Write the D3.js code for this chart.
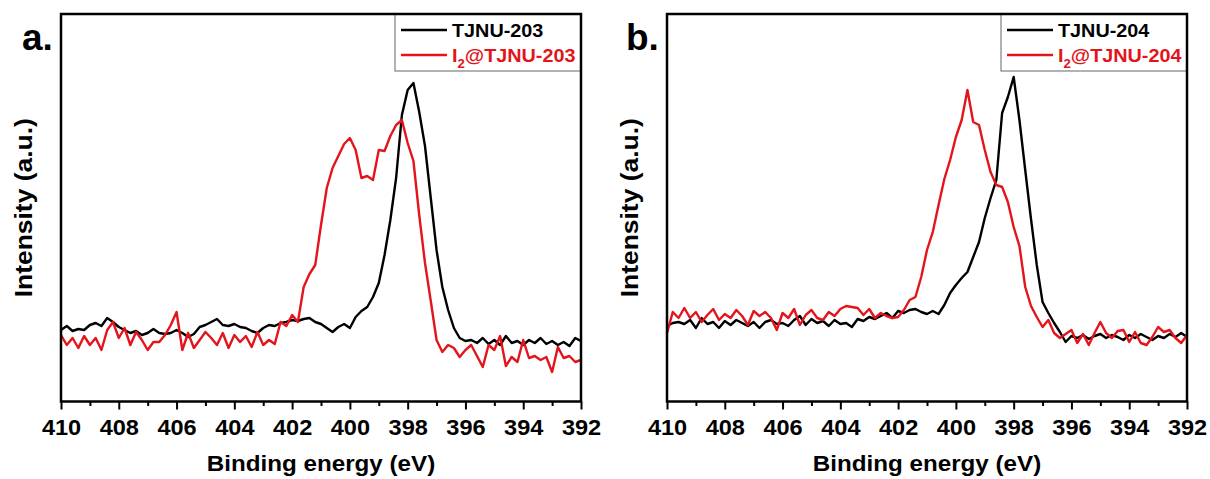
<!DOCTYPE html>
<html>
<head>
<meta charset="utf-8">
<script src="https://cdn.jsdelivr.net/npm/d3@7"></script>
<style>
body{margin:0;background:#fff}
svg{display:block;font-family:Arial,"Liberation Sans",sans-serif;font-weight:bold}
</style>
</head>
<body>
<svg id="canvas" width="1210" height="479"></svg>
<script>
// binding energy grid (eV), 0.2 eV steps
let energy = [
  410,409.8,409.6,409.4,409.2,409,408.8,408.6,408.4,408.2,
  408,407.8,407.6,407.4,407.2,407,406.8,406.6,406.4,406.2,
  406,405.8,405.6,405.4,405.2,405,404.8,404.6,404.4,404.2,
  404,403.8,403.6,403.4,403.2,403,402.8,402.6,402.4,402.2,
  402,401.8,401.6,401.4,401.2,401,400.8,400.6,400.4,400.2,
  400,399.8,399.6,399.4,399.2,399,398.8,398.6,398.4,398.2,
  398,397.8,397.6,397.4,397.2,397,396.8,396.6,396.4,396.2,
  396,395.8,395.6,395.4,395.2,395,394.8,394.6,394.4,394.2,
  394,393.8,393.6,393.4,393.2,393,392.8,392.6,392.4,392.2,
  392
]

// intensities (a.u.)
let tjnu203 = [
  70,74,69,71,70,75,77,74,82,78,
  73,70,67,69,65,67,71,67,66,67,
  70,67,63,66,73,75,78,81,75,74,
  76,73,72,69,67,72,75,74,77,78,
  80,79,81,82,78,76,72,68,73,76,
  72,83,89,93,103,117,145,180,222,285,
  310,317,288,254,202,150,113,90,72,62,
  59,60,57,62,56,60,55,64,57,59,
  55,60,57,62,56,59,55,58,54,62,
  59
]
let i2tjnu203 = [
  65,55,62,52,64,55,62,50,70,78,
  62,72,55,68,60,50,58,58,65,75,
  88,50,67,52,60,68,62,55,67,52,
  65,58,64,53,68,55,60,56,78,74,
  85,78,113,126,135,175,212,232,244,256,
  262,250,222,224,220,250,249,264,275,280,
  257,239,185,137,99,60,48,55,52,43,
  50,55,44,33,55,50,64,34,43,38,
  60,42,44,40,43,28,53,42,44,38,
  40
]
let tjnu204 = [
  74,77,78,76,80,72,82,76,78,72,
  79,75,80,77,74,78,72,78,80,76,
  77,74,80,84,75,81,77,79,74,80,
  76,77,73,81,79,83,81,84,87,82,
  89,87,90,91,88,86,89,86,95,107,
  115,122,128,143,158,182,202,220,287,303,
  323,280,230,181,135,98,87,77,68,58,
  64,62,65,61,64,66,62,65,63,60,
  65,62,66,63,60,64,62,66,63,67,
  63
]
let i2tjnu204 = [
  67,88,82,92,82,88,78,85,91,80,
  86,82,90,84,75,89,84,88,82,70,
  87,82,91,75,85,90,82,80,88,84,
  91,94,93,92,85,91,82,87,84,82,
  83,90,100,103,123,150,168,195,221,240,
  263,280,310,278,275,250,228,215,213,198,
  173,154,113,94,83,73,80,67,62,66,
  70,57,66,55,67,78,67,62,69,70,
  58,68,57,55,63,73,68,70,62,57,
  65
]

let majorTicks = [410,408,406,404,402,400,398,396,394,392]
let minorTicks = [409,407,405,403,401,399,397,395,393]

let panels = [
  {tag:'a.', tagX:22, left:61, sample:'TJNU-203', black:tjnu203, red:i2tjnu203},
  {tag:'b.', tagX:626, left:667, sample:'TJNU-204', black:tjnu204, red:i2tjnu204}
]

let redColor = '#e3141c'
let plotW = 520, plotTop = 14, plotBottom = 401.5
let legendW = 186, legendH = 57

let canvas = d3.select('#canvas')
let y = d3.scaleLinear().domain([-1.5, 386]).range([plotBottom, plotTop])

// the figure's lettering is a bit wider than Arial, so stretch it
let stretchText = (g, tx, ty, size, anchor) => g.append('text')
  .attr('transform', `translate(${tx},${ty}) scale(1.1,1)`)
  .attr('font-size', size)
  .attr('text-anchor', anchor)

panels.forEach(p => {
  let x = d3.scaleLinear().domain([410, 392]).range([p.left, p.left + plotW])
  let g = canvas.append('g')

  let line = d3.line()
    .x((d, i) => x(energy[i]))
    .y(d => y(d))

  g.append('path').attr('d', line(p.black))
    .attr('fill', 'none').attr('stroke', '#000').attr('stroke-width', 2.4)
    .attr('stroke-linejoin', 'round')
  g.append('path').attr('d', line(p.red))
    .attr('fill', 'none').attr('stroke', redColor).attr('stroke-width', 2.4)
    .attr('stroke-linejoin', 'round')

  // minor ticks
  g.append('g')
    .attr('transform', `translate(0,${plotBottom})`)
    .call(d3.axisBottom(x).tickValues(minorTicks).tickSize(4.5).tickFormat(''))
    .call(a => a.select('.domain').remove())
    .selectAll('line').attr('stroke-width', 2)

  let ax = g.append('g')
    .attr('transform', `translate(0,${plotBottom})`)
    .call(d3.axisBottom(x).tickValues(majorTicks).tickSize(8).tickPadding(10).tickFormat(d3.format('d')))
  ax.select('.domain').remove()
  ax.selectAll('line').attr('stroke-width', 2)
  ax.selectAll('text')
    .attr('font-size', 22)
    .attr('font-family', 'Arial, "Liberation Sans", sans-serif')
    .attr('font-weight', 'bold')
    .attr('fill', '#000')
    .attr('transform', 'scale(1.07,1)')

  // legend
  let lx = p.left + plotW - legendW
  g.append('rect')
    .attr('x', lx).attr('y', plotTop)
    .attr('width', legendW).attr('height', legendH)
    .attr('fill', '#fff').attr('stroke', '#666').attr('stroke-width', 1)
  g.append('line')
    .attr('x1', lx + 6).attr('x2', lx + 52).attr('y1', 30).attr('y2', 30)
    .attr('stroke', '#000').attr('stroke-width', 2.3)
  g.append('line')
    .attr('x1', lx + 6).attr('x2', lx + 52).attr('y1', 55).attr('y2', 55)
    .attr('stroke', redColor).attr('stroke-width', 2.3)
  stretchText(g, lx + 57, 36.5, 18, 'start').text(p.sample)
  let t2 = stretchText(g, lx + 57, 61.5, 18, 'start').attr('fill', redColor)
  t2.append('tspan').text('I')
  t2.append('tspan').attr('font-size', 12).attr('dy', 6).text('2')
  t2.append('tspan').attr('dy', -6).text('@' + p.sample)

  // frame on top of everything
  g.append('rect')
    .attr('x', p.left).attr('y', plotTop)
    .attr('width', plotW).attr('height', plotBottom - plotTop)
    .attr('fill', 'none').attr('stroke', '#000').attr('stroke-width', 2.5)

  stretchText(g, p.left + plotW / 2, 471, 22, 'middle').text('Binding energy (eV)')

  g.append('text')
    .attr('transform', `translate(${p.left - 29},${(plotTop + plotBottom) / 2}) rotate(-90) scale(1.15,1)`)
    .attr('font-size', 23)
    .attr('text-anchor', 'middle')
    .text('Intensity (a.u.)')

  g.append('text')
    .attr('x', p.tagX).attr('y', 50)
    .attr('font-size', 37)
    .text(p.tag)
})
</script>
</body>
</html>
